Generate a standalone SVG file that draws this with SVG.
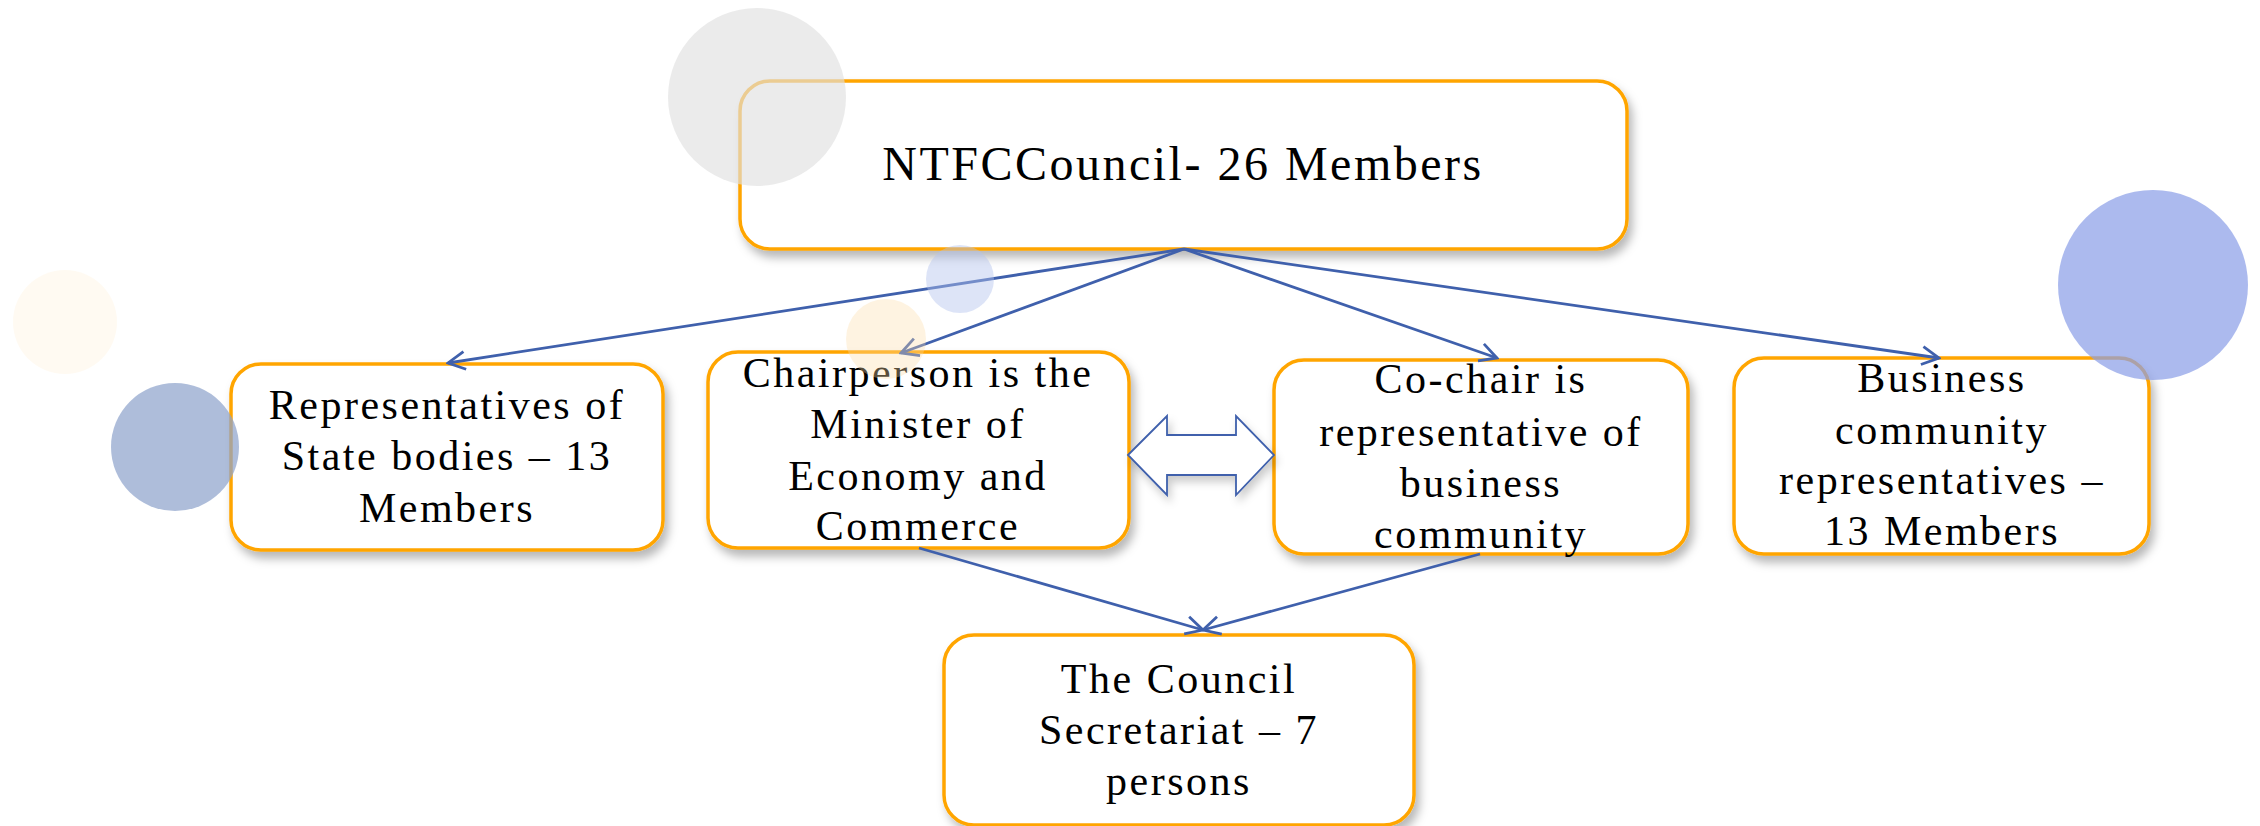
<svg xmlns="http://www.w3.org/2000/svg" width="2260" height="826" viewBox="0 0 2260 826">
<style>
.box{fill:#fff;stroke:#FFA500;stroke-width:3.5;filter:url(#sh)}
.t{font-family:"Liberation Serif","Times New Roman",serif;font-size:42px;fill:#000;text-anchor:middle;letter-spacing:2.5px}
.tt{font-size:48px}
.con{stroke:#3F60AC;stroke-width:2.8;fill:none;marker-end:url(#ah)}
</style>
<defs>
<filter id="sh" x="-10%" y="-10%" width="130%" height="140%">
<feDropShadow dx="4" dy="7" stdDeviation="5" flood-color="#000" flood-opacity="0.28"/>
</filter>
<filter id="sh2" x="-20%" y="-20%" width="150%" height="160%">
<feDropShadow dx="3" dy="6" stdDeviation="4" flood-color="#000" flood-opacity="0.2"/>
</filter>
<marker id="ah" viewBox="0 0 22 22" refX="20" refY="11" markerWidth="22" markerHeight="22" markerUnits="userSpaceOnUse" orient="auto">
<path d="M3,2 L20,11 L3,20" fill="none" stroke="#3F60AC" stroke-width="2.8"/>
</marker>
</defs>
<rect width="2260" height="826" fill="#fff"/>

<g id="node-top">
<rect class="box" x="740" y="81" width="887" height="168" rx="30"/>
<text class="t tt" x="1183" y="180">NTFCCouncil- 26 Members</text>
</g>
<g id="node-state">
<rect class="box" x="231" y="364" width="432" height="186" rx="30"/>
<text class="t" x="447" y="419">Representatives of</text>
<text class="t" x="447" y="470">State bodies – 13</text>
<text class="t" x="447" y="522">Members</text>
</g>
<g id="node-chair">
<rect class="box" x="708" y="352" width="421" height="196" rx="30"/>
<text class="t" x="918" y="387">Chairperson is the</text>
<text class="t" x="918" y="438">Minister of</text>
<text class="t" x="918" y="490">Economy and</text>
<text class="t" x="918" y="540">Commerce</text>
</g>
<g id="node-cochair">
<rect class="box" x="1274" y="360" width="414" height="194" rx="30"/>
<text class="t" x="1481" y="393">Co-chair is</text>
<text class="t" x="1481" y="446">representative of</text>
<text class="t" x="1481" y="497">business</text>
<text class="t" x="1481" y="548">community</text>
</g>
<g id="node-business">
<rect class="box" x="1734" y="358" width="415" height="196" rx="30"/>
<text class="t" x="1942" y="392">Business</text>
<text class="t" x="1942" y="444">community</text>
<text class="t" x="1942" y="494">representatives –</text>
<text class="t" x="1942" y="545">13 Members</text>
</g>
<g id="node-secretariat">
<rect class="box" x="944" y="635" width="470" height="190" rx="30"/>
<text class="t" x="1179" y="693">The Council</text>
<text class="t" x="1179" y="744">Secretariat – 7</text>
<text class="t" x="1179" y="795">persons</text>
</g>

<g id="connectors">
<line class="con" x1="1184" y1="249" x2="448" y2="363"/>
<line class="con" x1="1184" y1="249" x2="901" y2="353"/>
<line class="con" x1="1184" y1="249" x2="1497" y2="358"/>
<line class="con" x1="1184" y1="249" x2="1939" y2="358"/>
<line class="con" x1="919" y1="548" x2="1203" y2="630"/>
<line class="con" x1="1480" y1="554" x2="1203" y2="630"/>
<polygon id="double-arrow" points="1128,455 1167,416 1167,435 1236,435 1236,416 1274,455 1236,495 1236,475 1167,475 1167,495" fill="#fff" stroke="#3F60AC" stroke-width="1.8" filter="url(#sh2)"/>
</g>

<g id="decor">
<circle cx="757" cy="97" r="89" fill="#E0E0E0" opacity="0.65"/>
<circle cx="960" cy="279" r="34" fill="#B4C3EE" opacity="0.45"/>
<circle cx="886" cy="339" r="40" fill="#FDDCAA" opacity="0.35"/>
<circle cx="65" cy="322" r="52" fill="#FDDCAA" opacity="0.15"/>
<circle cx="175" cy="447" r="64" fill="#8FA3CC" opacity="0.72"/>
<circle cx="2153" cy="285" r="95" fill="#8C9FE8" opacity="0.72"/>
</g>
</svg>
